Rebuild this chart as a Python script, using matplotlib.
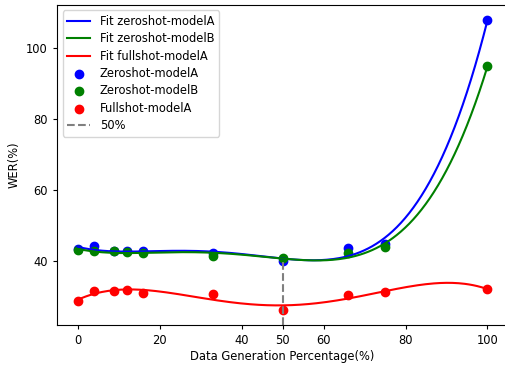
import numpy as np
import matplotlib
matplotlib.use('Agg')
import matplotlib.pyplot as plt

# data
pct = [0, 4, 9, 12, 16, 33, 50, 66, 75, 100]
zeroshot_a = [43.4, 44.2, 42.8, 42.8, 42.8, 42.5, 40.0, 43.9, 45.0, 108.0]
zeroshot_b = [43.2, 42.8, 42.8, 42.7, 42.5, 41.4, 41.1, 42.3, 44.0, 95.0]
fullshot_a = [28.8, 31.8, 31.8, 32.0, 31.0, 30.7, 26.2, 30.5, 31.3, 32.2]
xticks = [0, 20, 40, 50, 60, 80, 100]
DEG = 4

plt.rcParams['font.size'] = 8.3
plt.rcParams['xtick.major.size'] = 3
plt.rcParams['ytick.major.size'] = 3

fig = plt.figure(figsize=(5.05, 3.65), dpi=100)
ax = fig.add_axes([57/505, 40/365, 451/505, 320.5/365])

xs = np.linspace(0, 100, 200)
for y, c, name in [(zeroshot_a, 'blue', 'Fit zeroshot-modelA'),
                   (zeroshot_b, 'green', 'Fit zeroshot-modelB'),
                   (fullshot_a, 'red', 'Fit fullshot-modelA')]:
    p = np.poly1d(np.polyfit(pct, y, DEG))
    ax.plot(xs, p(xs), color=c, label=name)

ax.scatter(pct, zeroshot_a, color='blue', label='Zeroshot-modelA')
ax.scatter(pct, zeroshot_b, color='green', label='Zeroshot-modelB')
ax.scatter(pct, fullshot_a, color='red', label='Fullshot-modelA')

ymin = ax.get_ylim()[0]
ax.vlines(50, ymin, zeroshot_a[6], colors='gray', linestyles='--', label='50%')
ax.set_ylim(bottom=ymin)

ax.set_xticks(xticks)
ax.set_xlabel('Data Generation Percentage(%)', labelpad=2)
ax.set_ylabel('WER(%)')
ax.legend(loc='upper left', labelspacing=0.38)

fig.savefig('out.png', dpi=100)
